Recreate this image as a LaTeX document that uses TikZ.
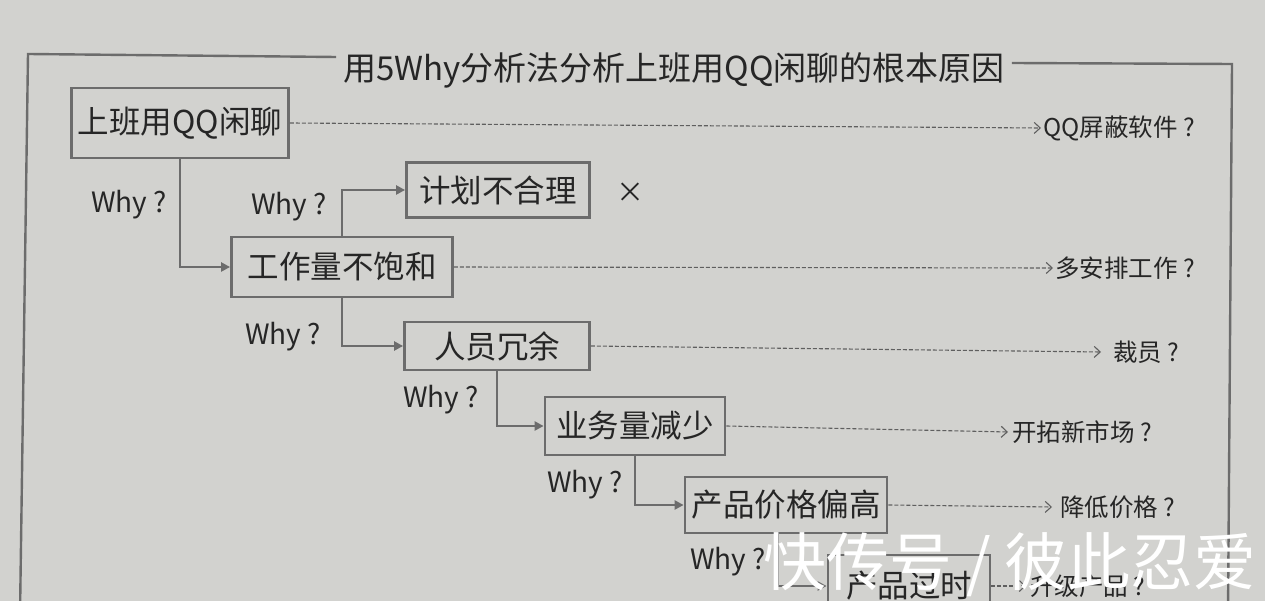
\documentclass[tikz,border=0pt]{standalone}
\usepackage{fontspec}
\setmainfont{Noto Sans CJK SC}
\usetikzlibrary{arrows.meta}
\definecolor{paper}{RGB}{210,210,207}
\definecolor{ink}{RGB}{38,38,38}
\definecolor{edge}{RGB}{108,108,108}
\definecolor{dash}{RGB}{95,95,95}
\begin{document}
\begin{tikzpicture}[x=1pt,y=-1pt,
  box/.style={draw=edge, line width=2.8pt, text=ink, inner sep=0pt,
    font=\fontsize{31.5}{31.5}\selectfont},
  why/.style={text=ink, inner sep=0pt, font=\fontsize{28}{28}\selectfont},
  fix/.style={text=ink, inner sep=0pt, anchor=west, font=\fontsize{24.5}{24.5}\selectfont},
  conn/.style={draw=edge, line width=2.8pt, -{Triangle[length=9pt,width=9pt]}},
  dashline/.style={draw=dash, line width=1.1pt, dash pattern=on 4pt off 2pt,
    -{Straight Barb[length=6pt,width=11pt,line width=1.1pt]}},
  frameline/.style={draw=edge, line width=2.4pt},
  titletext/.style={text=ink, inner ysep=0pt, inner xsep=7pt,
    font=\fontsize{33}{33}\selectfont},
  wmark/.style={text=white, inner sep=0pt, font=\fontsize{63}{63}\selectfont}]
\useasboundingbox (0,0) rectangle (1265,601);
\fill[paper] (0,0) rectangle (1265,601);
\clip (0,0) rectangle (1265,601);

% title and frame
\node[titletext] (t) at (674,70) {用5Why分析法分析上班用QQ闲聊的根本原因};
\draw[frameline] (t.west |- 0,57) -- (28,54) -- (20,615);
\draw[frameline] (t.east |- 0,63) -- (1232,64) -- (1228,615);

% boxes
\node[box, minimum width=217pt, minimum height=70pt] (b1) at (180,123) {上班用QQ闲聊};
\node[box, minimum width=183pt, minimum height=55pt] (b2) at (498,190) {计划不合理};
\node[box, minimum width=221pt, minimum height=60pt] (b3) at (342,267) {工作量不饱和};
\node[box, minimum width=185pt, minimum height=48pt] (b4) at (497,346) {人员冗余};
\node[box, minimum width=180pt, minimum height=58pt] (b5) at (635,426) {业务量减少};
\node[box, minimum width=202pt, minimum height=56pt] (b6) at (786,505) {产品价格偏高};
\node[box, minimum width=162pt, minimum height=62pt] (b7) at (909,586) {产品过时};

% why labels
\node[why] (w1) at (129,205) {Why ?};
\node[why] (w2) at (289,207) {Why ?};
\node[why] (w3) at (283,337) {Why ?};
\node[why] (w4) at (441,400) {Why ?};
\node[why] (w5) at (585,485) {Why ?};
\node[why] (w6) at (728,562) {Why ?};
\node[text=ink, inner sep=0pt, font=\fontsize{28}{28}\selectfont] (x) at (630,193) {×};

% solutions
\node[fix] (s1) at (1043,128) {QQ屏蔽软件 ?};
\node[fix] (s3) at (1055,268) {多安排工作 ?};
\node[fix] (s4) at (1113,352) {裁员 ?};
\node[fix] (s5) at (1012,432) {开拓新市场 ?};
\node[fix] (s6) at (1060,507) {降低价格 ?};
\node[fix] (s7) at (1030,586) {升级产品 ?};

% solid connectors
\draw[conn] (b1.south) |- (b3.west);
\draw[conn] (b3.north) |- (b2.west);
\draw[conn] (b3.south) |- (b4.west);
\draw[conn] (b4.south) |- (b5.west);
\draw[conn] (b5.south) |- (b6.west);
\draw[conn] ([xshift=-8pt]b6.south) |- (b7.west);

% dashed arrows
\draw[dashline] (b1.east) -- ([xshift=-2pt]s1.west);
\draw[dashline] (b3.east) -- ([xshift=-2pt]s3.west);
\draw[dashline] (b4.east) -- ([xshift=-12pt]s4.west);
\draw[dashline] (b5.east) -- ([xshift=-4pt]s5.west);
\draw[dashline] (b6.east) -- ([xshift=-8pt]s6.west);
\draw[dashline] (b7.east) -- ([xshift=-4pt]s7.west);

% watermark
\node[wmark] (wm) at (1010,565) {快传号 / 彼此忍爱};
\end{tikzpicture}
\end{document}
